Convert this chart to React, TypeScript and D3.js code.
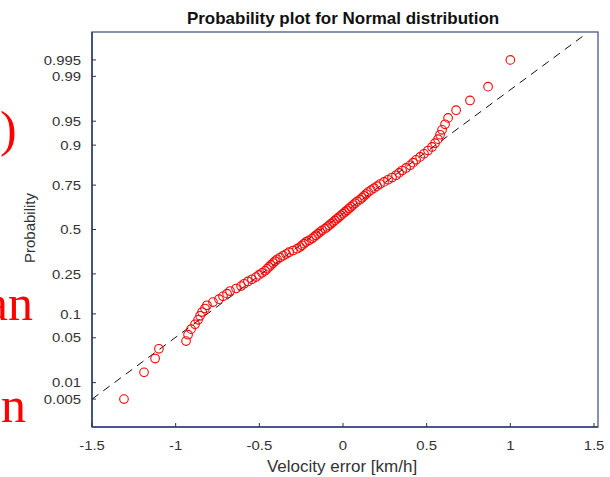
import React from "react";
import * as d3 from "d3";

// Sorted velocity errors [km/h] (100 samples)
const velocityErrors: number[] = [
  -1.309, -1.189, -1.123, -1.1, -0.938, -0.926, -0.908, -0.884, -0.866, -0.854,
  -0.842, -0.825, -0.813, -0.777, -0.741, -0.717, -0.693, -0.675, -0.639, -0.609,
  -0.591, -0.568, -0.544, -0.52, -0.502, -0.484, -0.466, -0.454, -0.442, -0.43,
  -0.418, -0.406, -0.394, -0.376, -0.358, -0.34, -0.322, -0.299, -0.275, -0.257,
  -0.245, -0.233, -0.221, -0.203, -0.185, -0.173, -0.161, -0.149, -0.137, -0.125,
  -0.107, -0.095, -0.083, -0.071, -0.059, -0.048, -0.036, -0.024, -0.012, 0.0,
  0.012, 0.024, 0.036, 0.048, 0.06, 0.072, 0.084, 0.102, 0.114, 0.126,
  0.138, 0.15, 0.168, 0.186, 0.204, 0.221, 0.245, 0.269, 0.293, 0.317,
  0.335, 0.353, 0.377, 0.401, 0.419, 0.437, 0.461, 0.484, 0.508, 0.532,
  0.55, 0.568, 0.58, 0.592, 0.61, 0.628, 0.676, 0.759, 0.867, 1.0,
];

const probTicks: number[] = [0.005, 0.01, 0.05, 0.1, 0.25, 0.5, 0.75, 0.9, 0.95, 0.99, 0.995];
const probTickLabels: string[] = ["0.005", "0.01", "0.05", "0.1", "0.25", "0.5", "0.75", "0.9", "0.95", "0.99", "0.995"];
const xTicks: number[] = [-1.5, -1, -0.5, 0, 0.5, 1, 1.5];
const xTickLabels: string[] = ["-1.5", "-1", "-0.5", "0", "0.5", "1", "1.5"];

// Reference (fitted normal) line parameters and extent
const refMu = -0.129;
const refSigma = 0.532;
const refLineX: number[] = [-1.5, 1.435];

const sideTexts: { text: string; x: number; y: number; anchor: string }[] = [
  { text: ")", x: 0, y: 146, anchor: "start" },
  { text: "an", x: 33, y: 320, anchor: "end" },
  { text: "n", x: 26, y: 422, anchor: "end" },
];

// Inverse standard normal CDF (Acklam)
function normInv(p: number): number {
  const a = [-3.969683028665376e1, 2.209460984245205e2, -2.759285104469687e2, 1.38357751867269e2, -3.066479806614716e1, 2.506628277459239];
  const b = [-5.447609879822406e1, 1.615858368580409e2, -1.556989798598866e2, 6.680131188771972e1, -1.328068155288572e1];
  const c = [-7.784894002430293e-3, -3.223964580411365e-1, -2.400758277161838, -2.549732539343734, 4.374664141464968, 2.938163982698783];
  const d = [7.784695709041462e-3, 3.224671290700398e-1, 2.445134137142996, 3.754408661907416];
  const pl = 0.02425;
  if (p < pl) {
    const q = Math.sqrt(-2 * Math.log(p));
    return (((((c[0] * q + c[1]) * q + c[2]) * q + c[3]) * q + c[4]) * q + c[5]) / ((((d[0] * q + d[1]) * q + d[2]) * q + d[3]) * q + 1);
  } else if (p <= 1 - pl) {
    const q = p - 0.5;
    const r = q * q;
    return ((((((a[0] * r + a[1]) * r + a[2]) * r + a[3]) * r + a[4]) * r + a[5]) * q) / (((((b[0] * r + b[1]) * r + b[2]) * r + b[3]) * r + b[4]) * r + 1);
  } else {
    const q = Math.sqrt(-2 * Math.log(1 - p));
    return -(((((c[0] * q + c[1]) * q + c[2]) * q + c[3]) * q + c[4]) * q + c[5]) / ((((d[0] * q + d[1]) * q + d[2]) * q + d[3]) * q + 1);
  }
}

const W = 610;
const H = 477;
const left = 92;
const right = 598;
const top = 32;
const bottom = 427;

export default function App() {
  const x = d3.scaleLinear().domain([-1.5, 1.5]).range([left, 594]);
  const y = d3.scaleLinear().domain([-3, 3]).range([bottom, top]);
  const n = velocityErrors.length;
  const pts = velocityErrors.map((v, i) => ({ v, z: normInv((i + 0.5) / n) }));
  const refLine = d3
    .line<number>()
    .x((v) => x(v))
    .y((v) => y((v - refMu) / refSigma))(refLineX) as string;

  const tickFont = "'Liberation Sans', Arial, sans-serif";
  const axisColor = "#34447a";

  return (
    <svg width={W} height={H} style={{ position: "absolute", left: 0, top: 0, display: "block", background: "#fff" }}>
      {/* side slide text */}
      {sideTexts.map((t, i) => (
        <text key={i} x={t.x} y={t.y} textAnchor={t.anchor} fill="#ff0000" fontFamily="'Liberation Serif', 'Times New Roman', serif" fontSize={50}>
          {t.text}
        </text>
      ))}

      {/* title */}
      <g transform={`translate(${(left + right) / 2 - 2},24) scale(1.03,1)`}>
        <text x={0} y={0} textAnchor="middle" fontFamily={tickFont} fontWeight="bold" fontSize={16.5} fill="#111">
          Probability plot for Normal distribution
        </text>
      </g>

      {/* frame */}
      <rect x={left} y={top} width={right - left} height={bottom - top} fill="none" stroke="#4a5888" strokeWidth={1.3} />
      <line x1={left} y1={top} x2={left} y2={bottom} stroke={axisColor} strokeWidth={1.6} />
      <line x1={left} y1={bottom} x2={right} y2={bottom} stroke={axisColor} strokeWidth={1.6} />

      {/* y ticks */}
      {probTicks.map((p, i) => {
        const yy = y(normInv(p));
        return (
          <g key={p}>
            <line x1={left} x2={left + 4} y1={yy} y2={yy} stroke="#333" strokeWidth={1} />
            <g transform={`translate(81,${yy}) scale(1.12,1)`}>
              <text x={0} y={0} dy="0.35em" textAnchor="end" fontFamily={tickFont} fontSize={13.3} fill="#333">
                {probTickLabels[i]}
              </text>
            </g>
          </g>
        );
      })}

      {/* x ticks */}
      {xTicks.map((t, i) => (
        <g key={t}>
          <line x1={x(t)} x2={x(t)} y1={bottom} y2={bottom - 4} stroke="#333" strokeWidth={1} />
          <g transform={`translate(${x(t)},450) scale(1.12,1)`}>
            <text x={0} y={0} textAnchor="middle" fontFamily={tickFont} fontSize={13.3} fill="#333">
              {xTickLabels[i]}
            </text>
          </g>
        </g>
      ))}

      {/* axis labels */}
      <text x={(left + right) / 2 - 3} y={472} textAnchor="middle" fontFamily={tickFont} fontSize={17} fill="#333">
        Velocity error [km/h]
      </text>
      <text transform={`translate(35,228) rotate(-90)`} textAnchor="middle" fontFamily={tickFont} fontSize={15} fill="#333">
        Probability
      </text>

      {/* reference line */}
      <path d={refLine} fill="none" stroke="#111" strokeWidth={1} strokeDasharray="8,6" />

      {/* data points */}
      {pts.map((p, i) => (
        <circle key={i} cx={x(p.v)} cy={y(p.z)} r={4.3} fill="none" stroke="#ff0000" strokeWidth={1.1} />
      ))}
    </svg>
  );
}
